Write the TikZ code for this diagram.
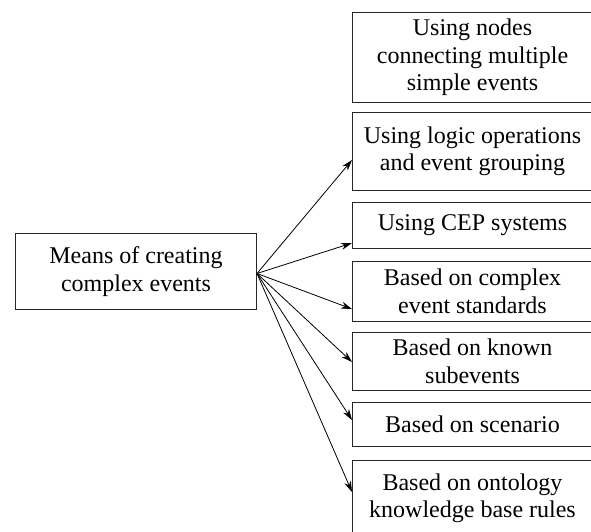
\documentclass[tikz,border=0pt]{standalone}
\usepackage{fontspec}
\setmainfont{Liberation Serif}
\usetikzlibrary{arrows.meta,calc}
\begin{document}
\begin{tikzpicture}[x=1pt,y=-1pt,
  box/.style={draw=black!85, line width=1pt, align=center, inner sep=0pt,
    anchor=north west, font=\fontsize{24}{27.5}\selectfont},
  conn/.style={line width=0.8pt, -{Stealth[length=11pt,width=7pt]}}]
\useasboundingbox (0,0) rectangle (591,531);
\node[box, minimum width=241pt, minimum height=76pt] (main) at (15,233) {Means of creating\\complex events};
\node[box, minimum width=240pt, minimum height=90pt] (b1) at (352,12) {Using nodes\\connecting multiple\\simple events};
\node[box, minimum width=240pt, minimum height=78pt] (b2) at (352,112) {Using logic operations\\and event grouping};
\node[box, minimum width=240pt, minimum height=46pt] (b3) at (352,202) {Using CEP systems};
\node[box, minimum width=240pt, minimum height=60pt] (b4) at (352,261) {Based on complex\\event standards};
\node[box, minimum width=240pt, minimum height=58pt] (b5) at (352,332) {Based on known\\subevents};
\node[box, minimum width=240pt, minimum height=44pt] (b6) at (352,402) {Based on scenario};
\node[box, minimum width=240pt, minimum height=76pt] (b7) at (352,460) {Based on ontology\\knowledge base rules};
\coordinate (o) at ($(main.east)+(0,-2pt)$);
\draw[conn] (o) -- ([yshift=-48pt]b2.north west);
\draw[conn] (o) -- ([yshift=-41pt]b3.north west);
\draw[conn] (o) -- ([yshift=-48pt]b4.north west);
\draw[conn] (o) -- ([yshift=-30pt]b5.north west);
\draw[conn] (o) -- ([yshift=-18pt]b6.north west);
\draw[conn] (o) -- ([yshift=-32pt]b7.north west);
\end{tikzpicture}
\end{document}
